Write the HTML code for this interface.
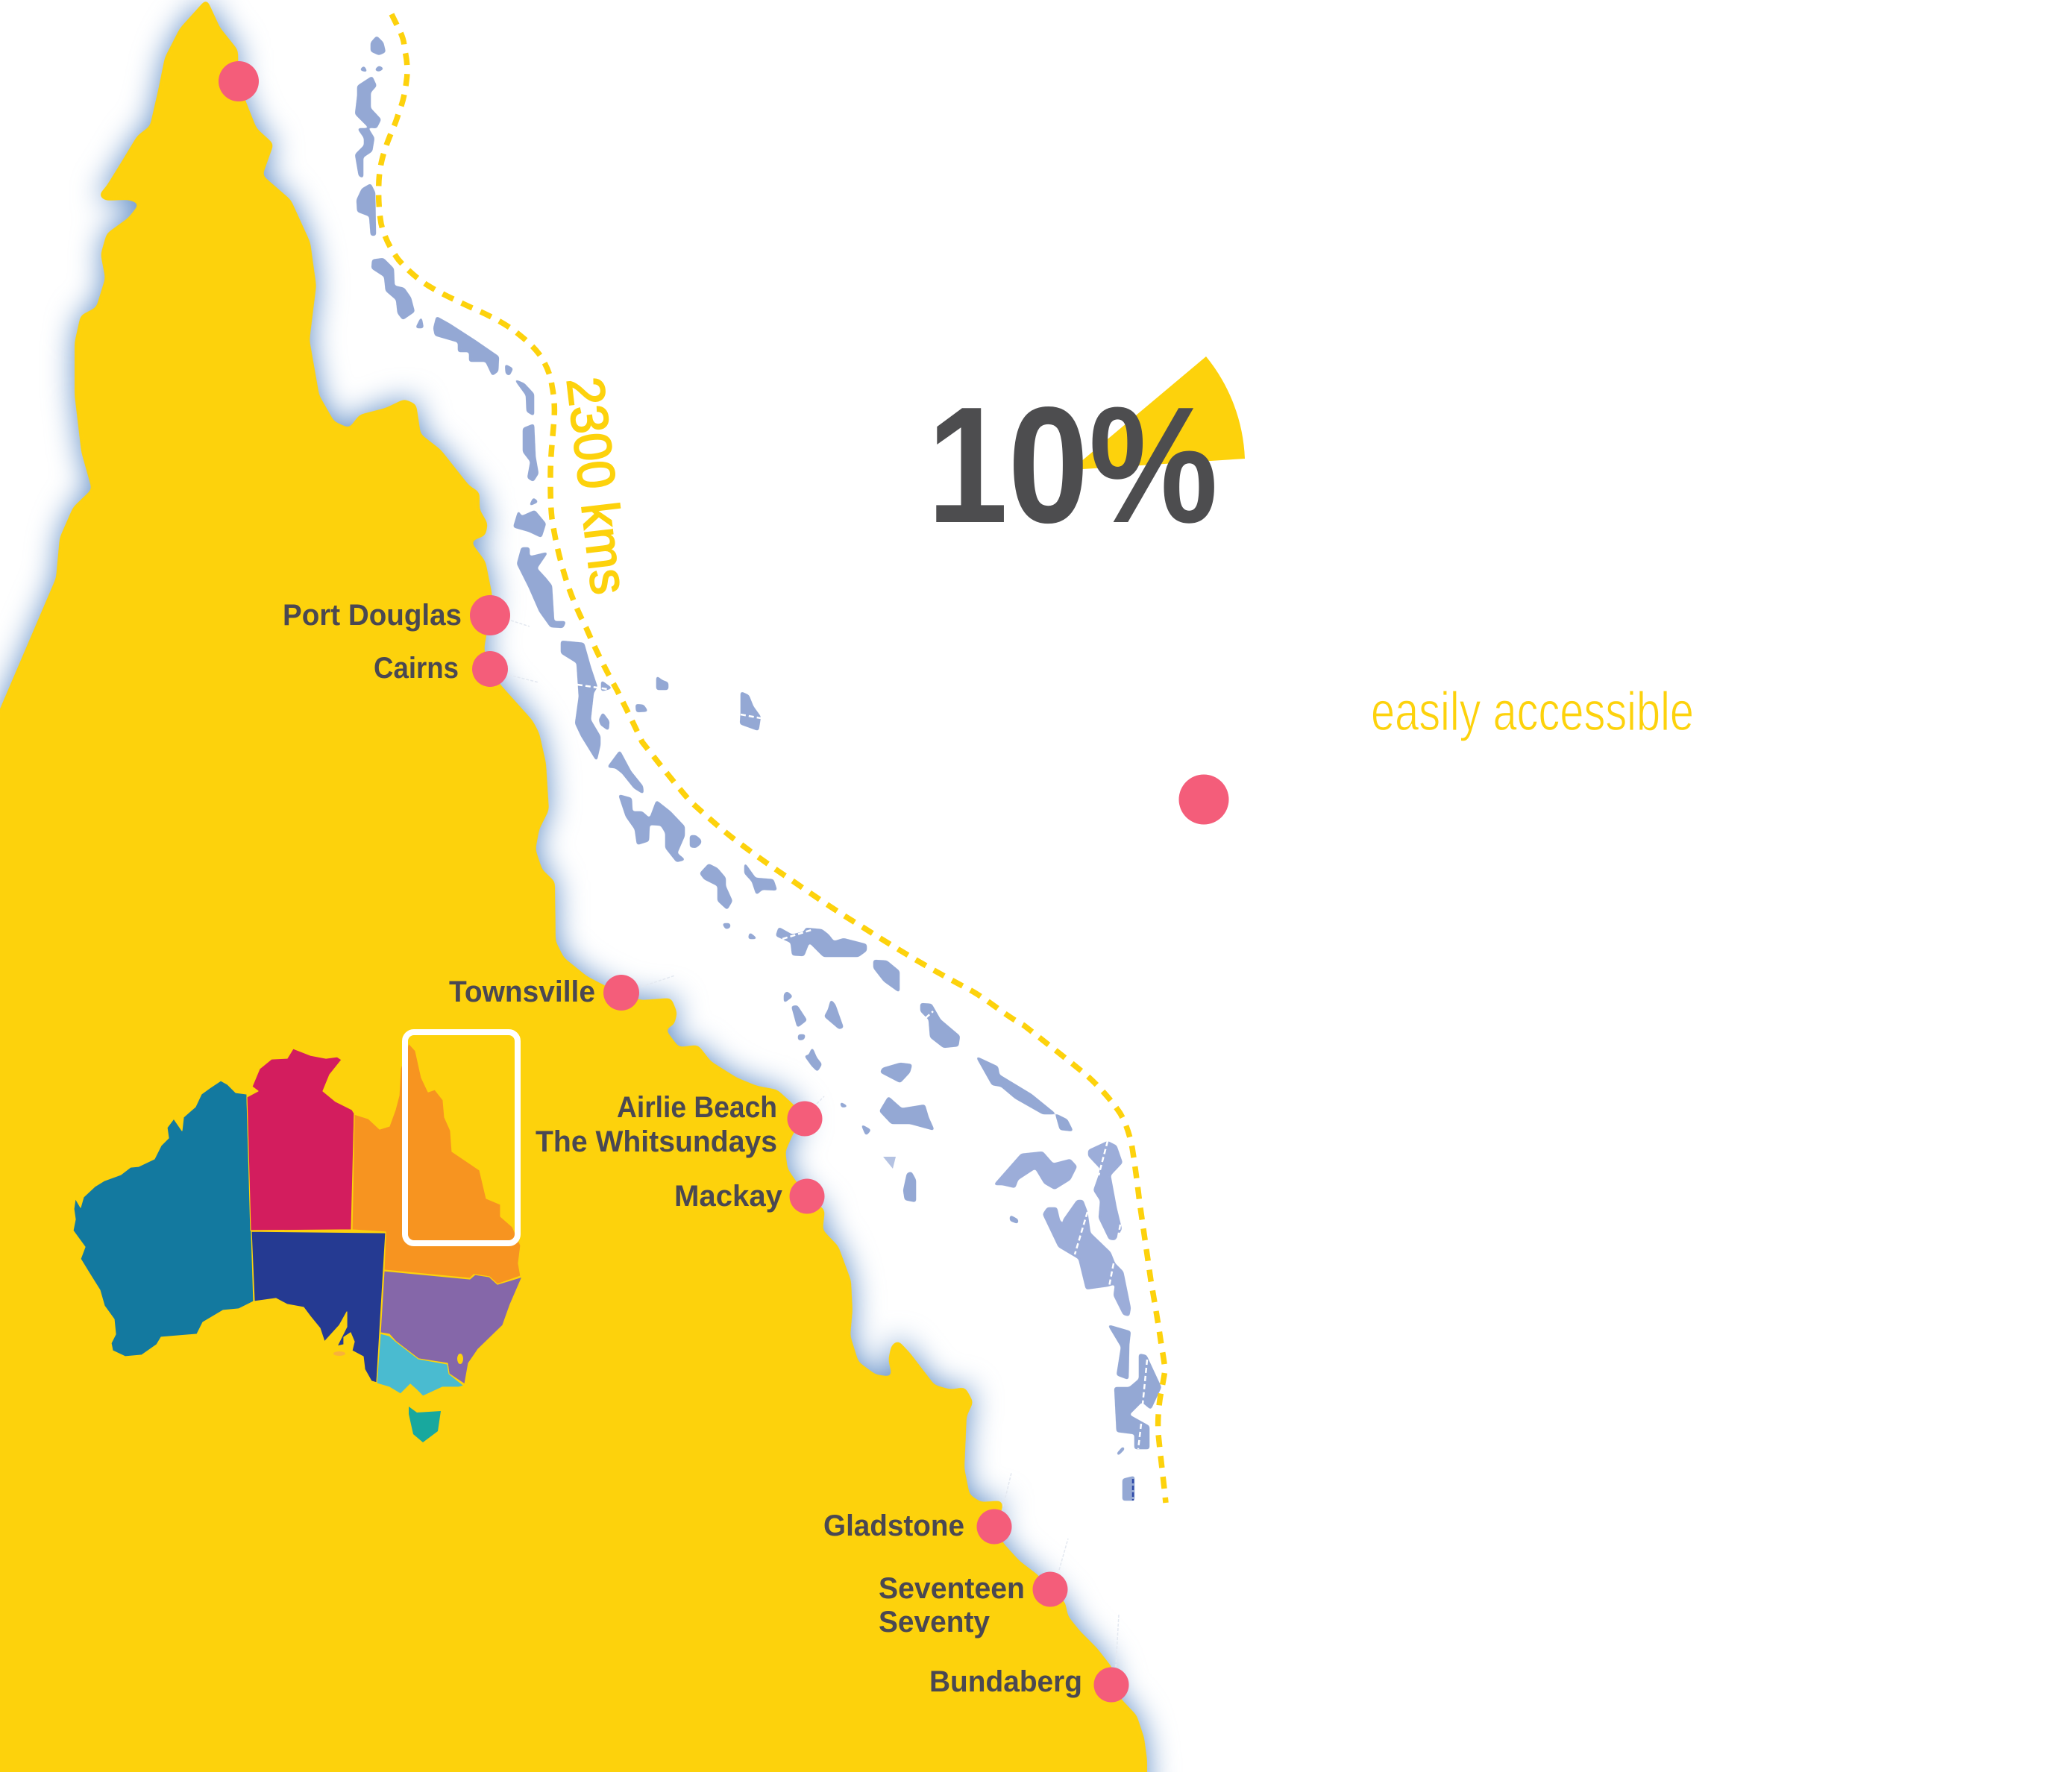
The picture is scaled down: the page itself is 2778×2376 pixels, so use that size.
<!DOCTYPE html>
<html><head><meta charset="utf-8"><style>
html,body{margin:0;padding:0;background:#fff}
svg{display:block}
text{font-family:"Liberation Sans",sans-serif}
.l{font-size:40px;font-weight:bold;fill:#4a4852}
</style></head><body>
<svg xmlns="http://www.w3.org/2000/svg" width="2778" height="2376" viewBox="0 0 2778 2376">
<defs>
<path id="coast" d="M-60 2450L-60 1090L1 948L75 775L80 721L98 680L123 656L109 606L100 530L100 459L108 423L129 412L141 373L135 341L143 313L172 292L187 273L172 268L141 269L132 262L143 249L161 220L184 182L201 169L212 121L221 77L241 38L277 -2L295 37L319 67L320 109L330 137L344 172L367 193L352 235L390 268L416 325L424 383L415 456L428 530L448 565L468 574L482 556L517 547L542 535L558 542L564 582L591 603L629 651L643 660L643 683L654 702L651 718L631 726L651 753L660 798L657 825L651 858L649 871L657 897L671 918L714 966L723 983L732 1023L736 1086L723 1112L718 1139L727 1166L744 1182L745 1262L756 1284L787 1309L812 1322L833 1331L859 1341L900 1338L908 1358L904 1374L892 1380L910 1404L936 1401L953 1423L988 1445L1015 1456L1042 1461L1064 1481L1079 1500L1064 1519L1053 1544L1056 1567L1066 1582L1082 1604L1106 1622L1103 1649L1124 1671L1141 1717L1143 1757L1140 1791L1151 1826L1174 1843L1196 1846L1191 1823L1195 1804L1204 1797L1220 1814L1253 1857L1274 1863L1294 1860L1305 1880L1296 1899L1293 1969L1300 2004L1315 2014L1344 2012L1344 2023L1333 2047L1346 2070L1367 2093L1392 2112L1408 2131L1428 2148L1432 2167L1448 2187L1471 2210L1492 2237L1490 2259L1505 2280L1524 2300L1534 2330L1538 2360L1538 2450Z"/>
<filter id="glow" filterUnits="userSpaceOnUse" x="-200" y="-200" width="2200" height="2800" color-interpolation-filters="sRGB"><feGaussianBlur stdDeviation="20"/></filter>
<filter id="smooth" filterUnits="userSpaceOnUse" x="-200" y="-200" width="2200" height="2800" color-interpolation-filters="sRGB">
<feGaussianBlur stdDeviation="4"/>
<feComponentTransfer><feFuncA type="linear" slope="14" intercept="-6.5"/></feComponentTransfer>
</filter>
<filter id="smooth2" filterUnits="userSpaceOnUse" x="300" y="0" width="1400" height="2200" color-interpolation-filters="sRGB">
<feGaussianBlur stdDeviation="1.8"/>
<feComponentTransfer><feFuncA type="linear" slope="8" intercept="-3"/></feComponentTransfer>
</filter>
</defs>
<rect width="2778" height="2376" fill="#fff"/>
<use href="#coast" fill="#5f8dc6" filter="url(#glow)"/>
<use href="#coast" fill="#fdd20c" filter="url(#smooth)"/>

<g fill="#94a8d4" filter="url(#smooth2)">
<polygon points="497,57 505,48 514,57 517,70 508,74 497,69"/>
<polygon points="482,94 488,88 493,97"/>
<polygon points="502,94 508,88 515,92 508,96"/>
<polygon points="479,115 499,102 505,115 497,124 497,145 511,160 505,172 494,171 476,153 479,128"/>
<polygon points="479,172 494,172 502,185 499,203 487,211 487,239 481,236 476,207 488,195 488,185"/>
<polygon points="497,246 503,258 504,316 497,316 495,290 479,284 478,268 485,253"/>
<polygon points="499,348 514,346 528,360 529,383 542,386 551,399 556,418 540,429 533,420 531,402 517,390 515,371 498,360"/>
<polygon points="565,424 568,440 557,440"/>
<polygon points="585,424 603,434 637,456 669,478 668,498 660,504 651,485 629,485 629,472 614,472 614,459 583,450 581,440"/>
<polygon points="677,488 688,494 683,504 678,501"/>
<polygon points="689,508 703,514 716,528 716,558 706,552 705,530"/>
<polygon points="701,574 716,568 718,612 722,635 715,646 707,641 711,619 701,606"/>
<polygon points="715,667 722,673 709,679"/>
<polygon points="695,684 699,692 717,684 732,702 726,721 709,713 688,707"/>
<polygon points="699,734 710,734 710,746 735,740 720,762 732,775 740,785 743,833 759,833 755,842 738,841 723,820 709,788 693,756"/>
<polygon points="752,859 783,862 792,894 801,921 796,929 792,965 805,987 805,999 800,1021 779,987 771,970 776,934 773,889 752,876"/>
<polygon points="806,912 821,923 806,927"/>
<polygon points="808,955 817,967 816,980 805,972 803,965"/>
<polygon points="880,906 888,912 896,915 896,925 880,925"/>
<polygon points="852,944 863,945 869,954 853,955"/>
<polygon points="993,927 1004,932 1010,947 1020,961 1017,980 992,971 993,956"/>
<polygon points="831,1006 846,1034 862,1054 863,1065 850,1057 834,1037 825,1030 814,1029"/>
<polygon points="829,1065 847,1070 848,1088 861,1088 871,1097 880,1073 899,1088 918,1108 918,1121 908,1144 919,1153 907,1156 892,1137 892,1117 886,1107 871,1106 870,1128 854,1133 851,1112 839,1095"/>
<polygon points="925,1120 933,1120 940,1126 940,1131 933,1137 925,1136"/>
<polygon points="950,1158 962,1164 973,1177 973,1188 982,1208 975,1220 962,1208 962,1188 944,1179 938,1171"/>
<polygon points="998,1156 1013,1177 1037,1179 1042,1194 1022,1193 1014,1200 1008,1182 998,1171"/>
<polygon points="968,1238 979,1238 979,1244 973,1246"/>
<polygon points="1005,1250 1016,1259 1003,1259"/>
<polygon points="1044,1243 1062,1253 1078,1249 1080,1244 1102,1246 1111,1253 1118,1262 1131,1258 1162,1266 1162,1275 1151,1283 1104,1283 1085,1264 1078,1282 1062,1281 1060,1264 1040,1255"/>
<polygon points="1171,1287 1189,1288 1206,1302 1206,1331 1185,1316 1171,1298"/>
<polygon points="1051,1333 1055,1329 1063,1336 1051,1345"/>
<polygon points="1061,1349 1069,1348 1082,1368 1069,1378"/>
<polygon points="1114,1340 1120,1347 1131,1378 1125,1380 1105,1363 1110,1354"/>
<polygon points="1070,1387 1080,1387 1078,1394 1070,1395"/>
<polygon points="1089,1404 1095,1418 1102,1427 1096,1437 1088,1429 1078,1415 1084,1415"/>
<polygon points="1234,1345 1249,1346 1261,1367 1287,1389 1285,1403 1265,1405 1247,1391 1245,1367 1234,1356"/>
<polygon points="1207,1425 1223,1427 1220,1438 1207,1452 1180,1438 1183,1432"/>
<polygon points="1126,1477 1138,1484 1128,1485"/>
<polygon points="1191,1470 1209,1486 1240,1481 1245,1498 1253,1516 1220,1507 1195,1507 1179,1490"/>
<polygon points="1154,1507 1168,1515 1161,1523"/>
<polygon points="1216,1573 1222,1571 1228,1582 1228,1612 1213,1609 1211,1596"/>
<polygon points="1308,1416 1338,1430 1340,1441 1383,1467 1415,1493 1431,1501 1439,1517 1421,1515 1415,1494 1398,1494 1361,1473 1342,1457 1330,1455"/>
<polygon points="1354,1629 1365,1635 1365,1641 1354,1637"/>
<polygon points="1485,1776 1516,1785 1514,1803 1513,1850 1497,1844 1503,1806"/>
<polygon points="1527,1815 1537,1817 1557,1860 1543,1890 1531,1880 1514,1897 1541,1912 1541,1943 1521,1943 1521,1923 1497,1920 1494,1860 1514,1860 1527,1849"/>
<polygon points="1497,1949 1506,1939 1508,1943 1499,1952"/>
<polygon points="1505,1983 1521,1979 1521,2012 1505,2012"/>
</g>
<g fill="#9cadd9" filter="url(#smooth2)">
<polygon points="1332,1589 1369,1547 1398,1544 1412,1560 1435,1554 1444,1564 1435,1582 1414,1595 1400,1587 1388,1567 1365,1582 1361,1593 1344,1589"/>
<polygon points="1459,1542 1485,1530 1497,1536 1505,1559 1489,1576 1497,1619 1504,1648 1495,1663 1487,1662 1473,1633 1475,1610 1466,1596 1473,1576 1475,1567 1459,1550"/>
<polygon points="1398,1628 1404,1619 1417,1619 1421,1636 1427,1645 1425,1636 1444,1609 1452,1609 1458,1625 1462,1653 1489,1679 1495,1694 1506,1705 1516,1754 1514,1765 1506,1763 1493,1737 1495,1722 1485,1725 1456,1729 1446,1688 1419,1672"/>
</g>
<polygon points="1184,1551 1201,1551 1197,1567" fill="#b4c2e2"/>

<g fill="none" stroke="#fff" stroke-width="2.5" stroke-dasharray="7 4">
<path d="M774 918L821 925M993 958L1020 963M1049 1259L1091 1246M1241 1365L1251 1356M1485 1530L1473 1576M1502 1642L1499 1659M1458 1625L1441 1682M1493 1694L1487 1725M1538 1823L1532 1883M1530 1909L1526 1943"/>
</g>
<path d="M1519 1983L1519 2012" stroke="#2f4aa8" stroke-width="2.5" stroke-dasharray="6 3" fill="none"/>
<g fill="none" stroke="#e3e8f0" stroke-width="1.5" stroke-dasharray="4 2">
<path d="M685 832L710 840M682 905L722 915M860 1323L905 1308M1095 1480L1105 1470M1345 2020L1356 1975M1420 2105L1432 2063M1496 2235L1500 2165"/>
</g>

<path d="M525 19C535 40 542 50 542 64C546 80 547 95 545 108C543 125 540 138 534 153C529 170 522 182 517 198C512 212 509 226 508 242C507 265 508 282 511 300C516 320 524 334 534 348C546 362 560 374 574 383C592 394 612 403 631 412C652 421 672 431 689 443C703 454 714 463 723 475C732 488 738 502 740 517C743 532 744 546 743 561C741 587 738 612 738 638C738 658 738 677 740 695C743 715 747 735 752 753C760 785 772 815 786 842C798 870 812 898 827 925C838 947 850 971 861 995C880 1019 905 1051 926 1075C947 1094 967 1112 988 1128C1012 1146 1037 1164 1064 1182C1094 1203 1125 1224 1158 1244C1205 1274 1252 1302 1300 1327C1324 1340 1348 1362 1373 1375C1401 1397 1429 1419 1456 1441C1473 1456 1490 1475 1502 1493C1510 1507 1515 1523 1518 1539C1522 1564 1525 1588 1528 1613C1533 1648 1538 1682 1543 1717C1548 1746 1553 1775 1557 1803C1559 1815 1561 1826 1562 1837C1560 1851 1557 1864 1555 1877C1553 1892 1552 1908 1553 1923C1556 1954 1560 1985 1563 2015" fill="none" stroke="#fdd20c" stroke-width="7.5" stroke-dasharray="16 12"/>

<text transform="translate(760 509) rotate(83.3)" font-size="70" fill="#fdd20c" stroke="#fdd20c" stroke-width="2" textLength="292" lengthAdjust="spacingAndGlyphs">2300 kms</text>

<path d="M1436 630L1617 478A231 231 0 0 1 1669 615Z" fill="#fdd20c"/>
<text x="1243" y="700" font-size="222" font-weight="bold" fill="#4d4d4f" textLength="390" lengthAdjust="spacingAndGlyphs">10%</text>

<text x="1838" y="979" font-size="73" fill="#fdd20c" stroke="#fff" stroke-width="1.2" textLength="433" lengthAdjust="spacingAndGlyphs">easily accessible</text>

<!-- Australia inset -->
<g stroke="#fdd20c" stroke-width="1.2" stroke-linejoin="round">
<polygon fill="#13799f" points="331,1467 316,1465 305,1454 296,1449 281,1459 270,1467 262,1484 246,1498 244,1516 233,1500 224,1512 226,1526 216,1536 207,1554 186,1564 175,1565 162,1575 140,1583 127,1591 112,1605 108,1619 101,1607 99,1621 101,1635 98,1650 114,1672 108,1688 119,1706 134,1730 140,1751 153,1769 155,1789 149,1801 151,1811 168,1819 190,1817 210,1803 216,1793 264,1789 272,1773 299,1757 320,1755 340,1745"/>
<polygon fill="#d31d5e" points="331,1471 346,1463 338,1457 348,1433 364,1420 385,1419 393,1406 416,1415 437,1419 452,1417 458,1421 442,1441 433,1463 450,1477 472,1488 475,1493 471,1649 336,1650"/>
<polygon fill="#f79420" points="475,1494 494,1500 509,1514 522,1510 530,1488 535,1469 537,1433 548,1399 557,1409 565,1445 574,1464 583,1461 594,1475 596,1498 604,1516 606,1544 643,1569 652,1607 671,1615 671,1631 687,1645 698,1670 695,1694 698,1711 667,1722 656,1712 635,1709 630,1714 515,1703 517,1652 472,1649"/>
<polygon fill="#253a92" points="337,1651 517,1653 505,1854 498,1852 489,1836 487,1819 472,1811 475,1799 470,1787 461,1793 461,1803 452,1805 465,1779 465,1759 455,1777 435,1799 429,1781 416,1765 407,1753 385,1749 370,1741 341,1745"/>
<polygon fill="#8567a9" points="515,1704 630,1715 637,1709 656,1712 667,1722 700,1712 684,1749 674,1777 641,1809 628,1828 623,1856 602,1842 600,1828 561,1822 531,1799 522,1789 510,1787"/>
<polygon fill="#4abbd0" points="510,1788 522,1791 531,1799 561,1822 600,1829 602,1842 622,1858 615,1860 593,1860 567,1872 559,1864 550,1856 537,1869 522,1860 505,1855"/>
<polygon fill="#18a89e" stroke="none" points="548,1886 559,1894 591,1892 587,1919 567,1934 554,1923 548,1896"/>
</g>
<ellipse cx="617" cy="1822" rx="4" ry="7" fill="#fdd20c"/>
<ellipse cx="455" cy="1815" rx="8" ry="3" fill="#f9b23a"/>
<rect x="543" y="1384" width="151" height="283" rx="12" fill="none" stroke="#fff" stroke-width="8"/>

<!-- Dots -->
<g fill="#f45d7a">
<circle cx="320" cy="109" r="27"/>
<circle cx="657" cy="825" r="27"/>
<circle cx="657" cy="897" r="24"/>
<circle cx="833" cy="1331" r="24"/>
<circle cx="1079" cy="1500" r="23.5"/>
<circle cx="1082" cy="1604" r="23.5"/>
<circle cx="1333" cy="2047" r="23.5"/>
<circle cx="1408" cy="2131" r="23.5"/>
<circle cx="1490" cy="2259" r="23.5"/>
<circle cx="1614" cy="1072" r="33.5"/>
</g>

<!-- Labels -->
<text class="l" x="379" y="838" textLength="240" lengthAdjust="spacingAndGlyphs">Port Douglas</text>
<text class="l" x="501" y="909" textLength="114" lengthAdjust="spacingAndGlyphs">Cairns</text>
<text class="l" x="602" y="1343" textLength="196" lengthAdjust="spacingAndGlyphs">Townsville</text>
<text class="l" x="827" y="1498" textLength="215" lengthAdjust="spacingAndGlyphs">Airlie Beach</text>
<text class="l" x="718" y="1544" textLength="324" lengthAdjust="spacingAndGlyphs">The Whitsundays</text>
<text class="l" x="904" y="1617" textLength="145" lengthAdjust="spacingAndGlyphs">Mackay</text>
<text class="l" x="1104" y="2059" textLength="189" lengthAdjust="spacingAndGlyphs">Gladstone</text>
<text class="l" x="1178" y="2143" textLength="196" lengthAdjust="spacingAndGlyphs">Seventeen</text>
<text class="l" x="1178" y="2188" textLength="149" lengthAdjust="spacingAndGlyphs">Seventy</text>
<text class="l" x="1246" y="2268" textLength="205" lengthAdjust="spacingAndGlyphs">Bundaberg</text>
</svg>
</body></html>
